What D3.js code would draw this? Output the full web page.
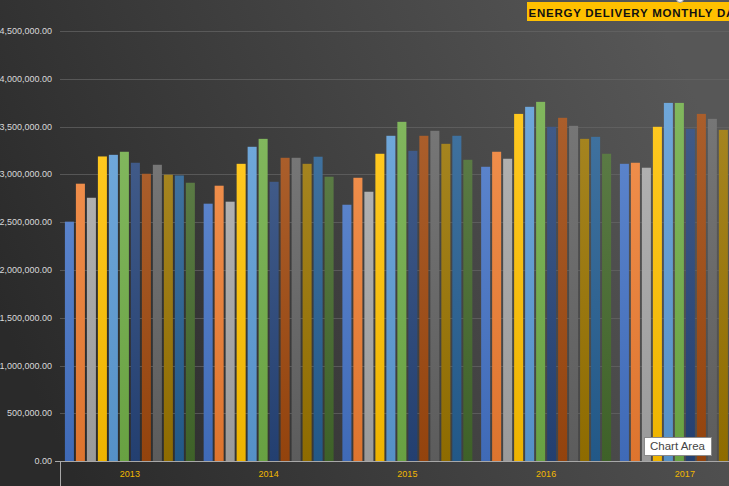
<!DOCTYPE html>
<html>
<head>
<meta charset="utf-8">
<script src="https://cdn.jsdelivr.net/npm/d3@7"></script>
<style>
  html, body { margin: 0; padding: 0; overflow: hidden; background: #333; }
  svg { display: block; }
</style>
</head>
<body>
<svg id="chart" width="729" height="486"></svg>
<script>
// energy delivered per month, one array per year
var years = ["2013", "2014", "2015", "2016", "2017"];
var months = ["Jan","Feb","Mar","Apr","May","Jun","Jul","Aug","Sep","Oct","Nov","Dec"];
var v2013 = [2506000, 2903000, 2756000, 3188000, 3205000, 3237000, 3122000, 3007000, 3101000, 2997000, 2989000, 2913000];
var v2014 = [2694000, 2882000, 2715000, 3111000, 3289000, 3372000, 2923000, 3174000, 3174000, 3111000, 3185000, 2976000];
var v2015 = [2683000, 2965000, 2819000, 3216000, 3404000, 3550000, 3247000, 3404000, 3456000, 3320000, 3404000, 3153000];
var v2016 = [3080000, 3237000, 3164000, 3633000, 3707000, 3759000, 3498000, 3592000, 3508000, 3372000, 3393000, 3216000];
var v2017 = [3111000, 3122000, 3070000, 3498000, 3748000, 3748000, 3477000, 3633000, 3581000, 3466000, 3400000, 3250000];
var yTicks = [0, 500000, 1000000, 1500000, 2000000, 2500000, 3000000, 3500000, 4000000, 4500000];

var palette = ["#4472C4","#ED7D31","#A5A5A5","#FFC000","#5B9BD5","#70AD47",
               "#264478","#9E480E","#636363","#997300","#255E91","#43682B"];

var table = [v2013, v2014, v2015, v2016, v2017];
var width = 729, height = 486;

var svg = d3.select("#chart");
var defs = svg.append("defs");

// background
var bg = defs.append("linearGradient").attr("id","bg")
    .attr("x1","0").attr("y1","0.65").attr("x2","1").attr("y2","0.35");
bg.append("stop").attr("offset","0").attr("stop-color","#2a2a2a");
bg.append("stop").attr("offset","1").attr("stop-color","#575757");
svg.append("rect").attr("width",width).attr("height",height).attr("fill","url(#bg)");

// bar gradients
palette.forEach(function(c,i){
    var g = defs.append("linearGradient").attr("id","bar"+i)
        .attr("x1","0").attr("y1","0").attr("x2","0").attr("y2","1");
    g.append("stop").attr("offset","0").attr("stop-color", d3.interpolateRgb(c,"#ffffff")(0.12));
    g.append("stop").attr("offset","1").attr("stop-color", d3.color(c).darker(0.2));
});

var x0 = d3.scaleBand().domain(years).range([60.5, 60.5 + 5*138.75]).padding(0);
var x1 = d3.scaleBand().domain(months).range([0, x0.bandwidth()])
    .paddingInner(0.18).paddingOuter(0.4);
var y = d3.scaleLinear().domain([0, 4500000]).range([461.3, 31]);

// gridlines
svg.append("g").selectAll("line").data(yTicks.slice(1)).join("line")
    .attr("x1",60).attr("x2",width)
    .attr("y1",function(d){return Math.round(y(d))+0.5;})
    .attr("y2",function(d){return Math.round(y(d))+0.5;})
    .attr("stroke","#666").attr("stroke-width",1).attr("opacity",0.7);

// y labels
svg.append("g").selectAll("text").data(yTicks).join("text")
    .attr("x",52).attr("y",function(d){return y(d);})
    .attr("dy","0.33em").attr("text-anchor","end")
    .attr("font-family","Liberation Sans, Arial, sans-serif").attr("font-size","9px")
    .attr("fill","#d9d9d9")
    .text(d3.format(",.2f"));

// bars
var groups = svg.append("g").selectAll("g").data(table).join("g")
    .attr("transform",function(d,i){return "translate("+x0(years[i])+",0)";});
groups.selectAll("rect").data(function(d){return d;}).join("rect")
    .attr("x",function(d,i){return x1(months[i]);})
    .attr("width",x1.bandwidth())
    .attr("y",function(d){return y(d);})
    .attr("height",function(d){return y(0)-y(d);})
    .attr("fill",function(d,i){return "url(#bar"+i+")";});

// x axis
svg.append("line").attr("x1",55).attr("x2",width).attr("y1",461.5).attr("y2",461.5)
    .attr("stroke","#a8a8a8").attr("stroke-width",1);
svg.append("line").attr("x1",60.5).attr("x2",60.5).attr("y1",461).attr("y2",height)
    .attr("stroke","#a8a8a8").attr("stroke-width",1);
svg.append("g").selectAll("text").data(years).join("text")
    .attr("x",function(d){return x0(d)+x0.bandwidth()/2;})
    .attr("y",476.5).attr("text-anchor","middle")
    .attr("font-family","Liberation Sans, Arial, sans-serif").attr("font-size","9px")
    .attr("fill","#f2b800")
    .text(function(d){return d;});

// title (runs off the right edge, as in the original screenshot)
svg.append("rect").attr("x",527).attr("y",2).attr("width",240).attr("height",19).attr("fill","#ffc000");
svg.append("text").attr("x",528.5).attr("y",16.5)
    .attr("font-family","Liberation Sans, Arial, sans-serif").attr("font-size","11.5px")
    .attr("font-weight","bold").attr("letter-spacing","0.75px").attr("fill","#111")
    .text("ENERGY DELIVERY MONTHLY DATA");
svg.append("circle").attr("cx",680).attr("cy",-1).attr("r",3.5)
    .attr("fill","#f4f4f4").attr("stroke","#999");

// tooltip left on the chart
var tip = svg.append("g").attr("transform","translate(644.5,437.5)");
tip.append("rect").attr("width",67).attr("height",18)
    .attr("fill","#ffffff").attr("stroke","#8a8a8a");
tip.append("text").attr("x",5.5).attr("y",12.5)
    .attr("font-family","Liberation Sans, Arial, sans-serif").attr("font-size","11.5px")
    .attr("fill","#444").text("Chart Area");
</script>
</body>
</html>
